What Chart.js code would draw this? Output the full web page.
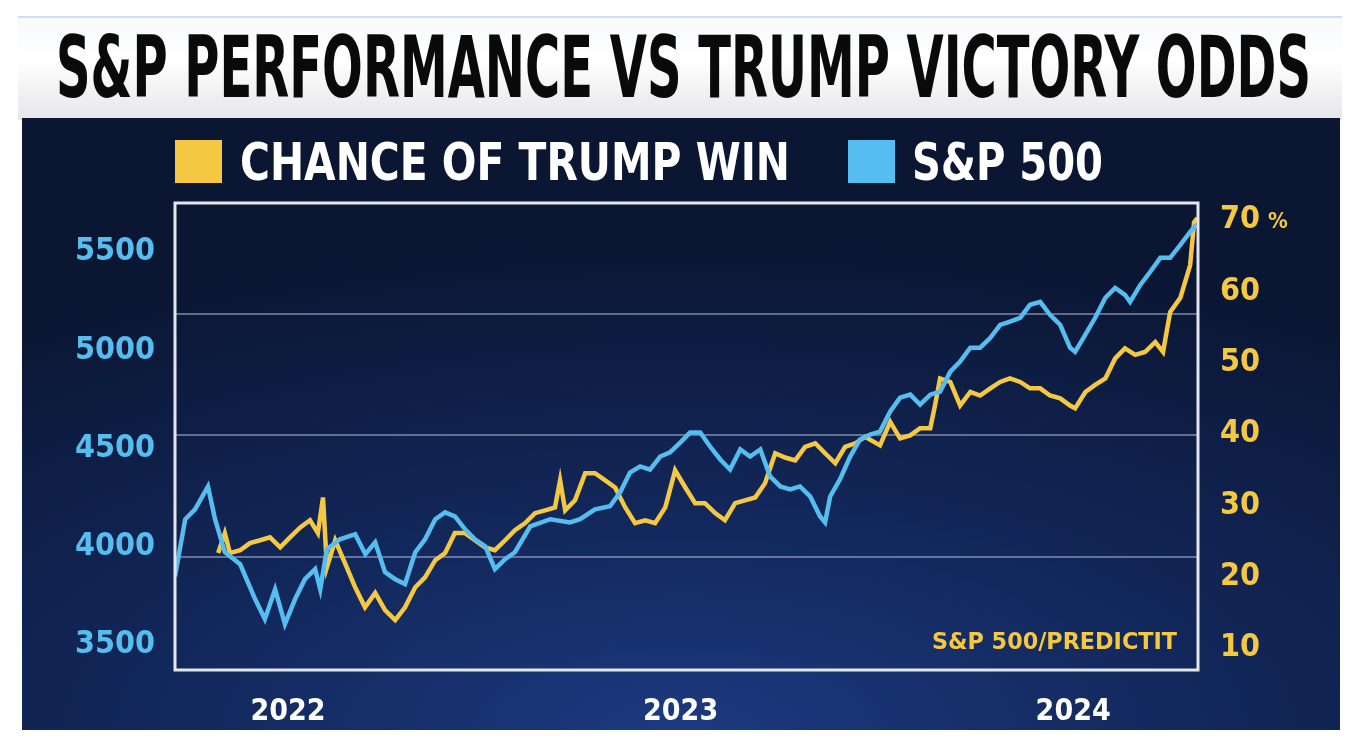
<!DOCTYPE html>
<html>
<head>
<meta charset="utf-8">
<script src="https://cdn.jsdelivr.net/npm/chart.js@4"></script>
<style>
  body { margin: 0; background: #fff; width: 1358px; height: 746px; overflow: hidden; font-family: "DejaVu Sans Condensed", "DejaVu Sans", sans-serif; }
  #titleBar { position: absolute; left: 18px; top: 16px; width: 1324px; height: 102px;
    background: linear-gradient(#f8f9fb 0%, #ffffff 40%, #e6e6e8 100%); border-top: 2px solid #cfe0f5; }
  .fit { position: absolute; white-space: nowrap; font-weight: bold; transform-origin: 0 50%; }
  #title { left: 56px; top: 67px; font-size: 86px; color: #0a0a0a; line-height: 0; }
  #panel { position: absolute; left: 22px; top: 118px; width: 1318px; height: 612px;
    background: radial-gradient(ellipse 90% 80% at 50% 100%, #1c3a80 0%, #12275a 45%, #0b1633 100%); }
  .sw { position: absolute; top: 140px; width: 47px; height: 43px; }
  .leg { top: 162px; font-size: 52px; color: #fff; line-height: 0; }
  #src { left: 932px; top: 641px; font-size: 23px; color: #f5c842; line-height: 0; }
  #pct { position: absolute; left: 1268px; top: 208px; font-size: 22px; font-weight: bold; color: #f5c842; }
  #c { position: absolute; left: 22px; top: 118px; }
</style>
</head>
<body>
<div id="titleBar"></div>
<div class="fit" id="title" data-w="1255">S&amp;P PERFORMANCE VS TRUMP VICTORY ODDS</div>
<div id="panel"></div>
<div style="position:relative">
  <canvas id="c" width="1318" height="612" style="width:1318px;height:612px"></canvas>
</div>
<div class="sw" style="left:175px;background:#f5c842"></div>
<div class="fit leg" style="left:240px" data-w="550">CHANCE OF TRUMP WIN</div>
<div class="sw" style="left:848px;background:#56bdf0"></div>
<div class="fit leg" style="left:912px" data-w="191">S&amp;P 500</div>
<div class="fit" id="src" data-w="245">S&amp;P 500/PREDICTIT</div>
<div id="pct">%</div>
<script>
// S&P 500 (decimal year, index level)
const spTime = [2021.712,2021.738,2021.763,2021.796,2021.814,2021.839,2021.878,2021.916,2021.941,2021.967,2021.992,
  2022.018,2022.043,2022.069,2022.082,2022.099,2022.132,2022.171,2022.197,2022.222,2022.247,2022.273,2022.298,2022.324,
  2022.349,2022.375,2022.400,2022.425,2022.451,2022.476,2022.502,2022.527,2022.553,2022.578,2022.617,2022.668,2022.718,
  2022.744,2022.782,2022.820,2022.846,2022.871,2022.897,2022.922,2022.948,2022.973,2022.999,2023.024,2023.050,2023.075,
  2023.101,2023.126,2023.152,2023.177,2023.203,2023.228,2023.254,2023.279,2023.304,2023.330,2023.355,2023.368,2023.381,
  2023.406,2023.432,2023.457,2023.483,2023.508,2023.534,2023.559,2023.585,2023.610,2023.636,2023.661,2023.687,2023.712,
  2023.738,2023.763,2023.789,2023.814,2023.839,2023.865,2023.890,2023.916,2023.941,2023.967,2023.992,2024.005,2024.031,
  2024.056,2024.082,2024.107,2024.132,2024.145,2024.171,2024.196,2024.222,2024.247,2024.273,2024.298,2024.313];
const spValue = [3850,4140,4190,4307,4140,3972,3911,3734,3632,3784,3607,
  3734,3835,3886,3784,3987,4038,4064,3962,4023,3871,3835,3810,3972,
  4038,4140,4175,4155,4089,4038,4003,3886,3937,3972,4104,4140,4124,
  4140,4190,4206,4277,4378,4409,4393,4459,4480,4530,4581,4581,4510,
  4444,4393,4495,4459,4495,4358,4307,4292,4307,4256,4155,4124,4256,
  4343,4459,4546,4571,4586,4688,4759,4774,4723,4774,4789,4891,4942,
  5013,5013,5063,5129,5145,5165,5231,5246,5180,5129,5013,4992,5079,
  5165,5267,5317,5282,5246,5332,5398,5470,5470,5536,5602,5637];

// PredictIt chance of Trump win (decimal year, %)
const oddsTime = [2021.822,2021.839,2021.852,2021.878,2021.903,2021.929,2021.954,2021.980,2022.005,2022.031,2022.056,
  2022.076,2022.089,2022.099,2022.120,2022.145,2022.171,2022.196,2022.222,2022.247,2022.273,2022.298,2022.324,2022.349,
  2022.375,2022.400,2022.425,2022.451,2022.476,2022.502,2022.527,2022.553,2022.578,2022.604,2022.629,2022.655,2022.680,
  2022.693,2022.706,2022.731,2022.757,2022.782,2022.808,2022.833,2022.859,2022.884,2022.910,2022.935,2022.961,2022.986,
  2023.012,2023.037,2023.062,2023.088,2023.113,2023.139,2023.164,2023.190,2023.215,2023.241,2023.266,2023.292,2023.317,
  2023.343,2023.368,2023.394,2023.419,2023.445,2023.470,2023.508,2023.534,2023.559,2023.585,2023.610,2023.636,2023.648,
  2023.661,2023.687,2023.712,2023.738,2023.763,2023.789,2023.814,2023.839,2023.865,2023.890,2023.916,2023.941,2023.967,
  2023.992,2024.005,2024.031,2024.056,2024.082,2024.107,2024.132,2024.158,2024.183,2024.209,2024.229,2024.247,2024.273,
  2024.285,2024.298,2024.308,2024.316];
const oddsValue = [23.3,26.1,23.3,23.7,24.7,25.1,25.5,24.1,25.5,26.9,27.9,
  26.1,31.1,21.3,25.1,21.9,18.5,15.7,17.7,15.3,13.9,15.7,18.5,19.9,
  22.3,23.3,26.1,26.1,25.1,24.1,23.7,25.1,26.5,27.5,28.9,29.3,29.7,
  33.5,29.3,30.7,34.5,34.5,33.5,32.5,29.7,27.5,27.9,27.5,29.7,34.9,
  32.5,30.3,30.3,28.9,27.9,30.3,30.7,31.1,33.1,37.3,36.7,36.3,38.2,
  38.7,37.3,35.9,38.2,38.7,39.6,38.4,41.7,39.4,39.8,40.8,40.8,44.0,
  47.8,47.3,44.0,45.9,45.4,46.4,47.3,47.8,47.3,46.4,46.4,45.4,45.0,
  44.0,43.6,45.9,46.9,47.8,50.6,52.0,51.1,51.5,52.9,51.5,57.1,59.1,
  61.3,63.7,69.7,70.3];

const spTicks = [3500, 4000, 4500, 5000, 5500];
const oddsTicks = [10, 20, 30, 40, 50, 60, 70];
const yearTicks = [2022, 2023, 2024];

const YELLOW = '#f5c842', BLUE = '#56bdf0';

// squeeze headline texts to their widths
document.querySelectorAll('.fit').forEach(el => {
  const w = el.getBoundingClientRect().width;
  el.style.transform = `scaleX(${el.dataset.w / w})`;
});

const pts = (t, v) => t.map((x, i) => ({ x, y: v[i] }));
const tickFont = { family: '"DejaVu Sans Condensed", "DejaVu Sans"', size: 32, weight: 'bold' };
const fixTicks = list => axis => { axis.ticks = list.map(value => ({ value })); };

const frame = {
  id: 'frame',
  afterDraw(chart) {
    const a = chart.chartArea, c = chart.ctx;
    c.save();
    c.strokeStyle = '#e4e6ee';
    c.lineWidth = 3;
    c.strokeRect(a.left, a.top, a.right - a.left, a.bottom - a.top);
    c.restore();
  }
};

new Chart(document.getElementById('c'), {
  type: 'line',
  data: {
    datasets: [
      { label: 'S&P 500', data: pts(spTime, spValue), yAxisID: 'ySP', borderColor: BLUE, borderWidth: 4.5, pointRadius: 0, tension: 0, order: 1 },
      { label: 'CHANCE OF TRUMP WIN', data: pts(oddsTime, oddsValue), yAxisID: 'yOdds', borderColor: YELLOW, borderWidth: 4.5, pointRadius: 0, tension: 0, order: 2 }
    ]
  },
  options: {
    responsive: false,
    animation: false,
    layout: { padding: { top: 85 } },
    plugins: { legend: { display: false }, tooltip: { enabled: false } },
    scales: {
      x: {
        type: 'linear', min: 2021.712, max: 2024.318,
        afterBuildTicks: fixTicks(yearTicks),
        afterFit: s => { s.height = 60; },
        grid: { display: false }, border: { display: false },
        ticks: { color: '#fff', font: { ...tickFont, size: 30 }, padding: 16, callback: v => String(v) }
      },
      ySP: {
        position: 'left', min: 3373, max: 5749,
        afterBuildTicks: fixTicks(spTicks),
        afterFit: s => { s.width = 153; },
        grid: { display: false }, border: { display: false },
        ticks: { color: BLUE, font: tickFont, padding: 12, callback: v => String(v) }
      },
      yOdds: {
        position: 'right', min: 6.9, max: 72.4,
        afterBuildTicks: fixTicks(oddsTicks),
        afterFit: s => { s.width = 142; },
        grid: { display: false }, border: { display: false },
        ticks: { color: YELLOW, font: tickFont, padding: 14, callback: v => String(v) }
      },
      grid: {
        position: 'right', display: true, min: -0.93, max: 2.91,
        afterBuildTicks: fixTicks([0, 1, 2]),
        afterFit: s => { s.width = 0; },
        grid: { color: 'rgba(200,210,235,0.45)', lineWidth: 2, drawTicks: false },
        border: { display: false },
        ticks: { display: false }
      }
    }
  },
  plugins: [frame]
});
</script>
</body>
</html>
